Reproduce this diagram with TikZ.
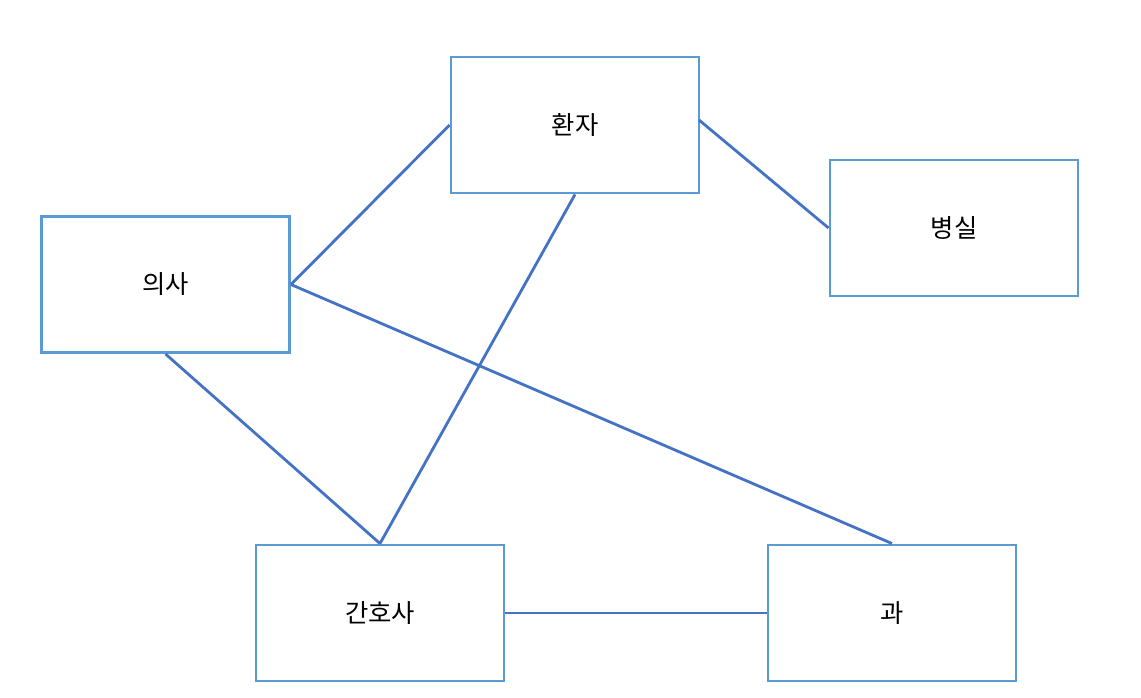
\documentclass[tikz,border=0pt]{standalone}
\usepackage{fontspec}
\setmainfont{Noto Sans CJK KR}
\begin{document}
\begin{tikzpicture}[x=0.75pt,y=-0.75pt,
  ent/.style={draw=boxblue,line width=2.2pt,minimum width=186pt,minimum height=102pt,inner sep=0pt,font=\fontsize{19}{22}\selectfont},
  conn/.style={draw=lineblue,line width=2.1pt}]
\definecolor{boxblue}{HTML}{5B9BD5}
\definecolor{lineblue}{HTML}{4472C4}
\useasboundingbox[fill=white] (0,0) rectangle (1141,698);
\node[ent] (hwanja) at (575,125) {환자};
\node[ent] (byeongsil) at (954,228) {병실};
\node[ent] (uisa) at (165.5,284.5) {의사};
\node[ent] (ganhosa) at (380,613) {간호사};
\node[ent] (gwa) at (892,613) {과};
\coordinate (he) at (699,120);
\draw[conn] (uisa.east) -- (hwanja.west);
\draw[conn] (he) -- (byeongsil.west);
\draw[conn] (hwanja.south) -- (ganhosa.north);
\draw[conn] (uisa.east) -- (gwa.north);
\draw[conn] (uisa.south) -- (ganhosa.north);
\draw[conn] (ganhosa.east) -- (gwa.west);
\end{tikzpicture}
\end{document}
